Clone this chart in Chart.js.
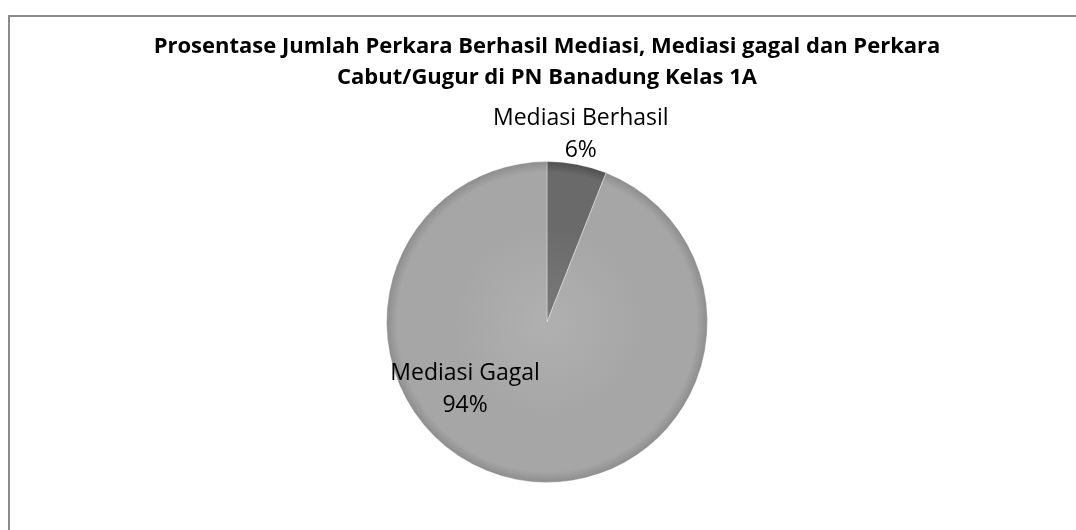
<!DOCTYPE html>
<html>
<head>
<meta charset="utf-8">
<script src="https://cdn.jsdelivr.net/npm/chart.js@4/dist/chart.umd.min.js"></script>
<style>
  html, body { margin: 0; padding: 0; background: #fff; }
  #wrap { position: relative; width: 1076px; height: 530px; overflow: hidden; }
  #frame { position: absolute; left: 8px; top: 15px; width: 1100px; height: 560px;
           border: 2px solid #8a8a8a; box-sizing: border-box; }
  canvas { position: absolute; left: 0; top: 0; }
</style>
</head>
<body>
<div id="wrap">
  <div id="frame"></div>
  <canvas id="pieChart" width="1076" height="530"></canvas>
</div>
<script>
// ---------------- Daten ----------------
const categories = ['Mediasi Berhasil', 'Mediasi Gagal'];
const percentValues = [6, 94];
const titleLines = [
  'Prosentase Jumlah Perkara Berhasil Mediasi, Mediasi gagal dan Perkara',
  'Cabut/Gugur di PN Banadung Kelas 1A'
];

// Farben (Excel-Graustufen mit leichtem Relief)
const sliceColors = [
  ['#7a7a7a', '#6a6a6a', '#4e4e4e'],
  ['#b0b0b0', '#a6a6a6', '#8c8c8c']
];

function sliceFill(ctx) {
  const chart = ctx.chart;
  const area = chart.chartArea;
  if (!area) return sliceColors[ctx.dataIndex][1];
  const cx = (area.left + area.right) / 2;
  const cy = (area.top + area.bottom) / 2;
  const r = Math.min(area.right - area.left, area.bottom - area.top) / 2;
  const c = sliceColors[ctx.dataIndex];
  const g = chart.ctx.createRadialGradient(cx, cy, 0, cx, cy, r);
  g.addColorStop(0, c[0]);
  g.addColorStop(0.6, c[1]);
  g.addColorStop(0.93, c[1]);
  g.addColorStop(1, c[2]);
  return g;
}

// ---------------- Beschriftung der Segmente ----------------
// angle: Grad im Uhrzeigersinn ab oben oder 'mid', dist: Anteil vom Radius
const labelPlacement = [
  { angle: 'mid', dist: 1.19 },
  { angle: 230, dist: 0.65 }
];

const sliceLabels = {
  id: 'sliceLabels',
  afterDatasetsDraw(chart) {
    const ctx = chart.ctx;
    const meta = chart.getDatasetMeta(0);
    ctx.save();
    ctx.font = '23px "Open Sans"';
    ctx.fillStyle = '#000';
    ctx.textAlign = 'center';
    ctx.textBaseline = 'middle';
    meta.data.forEach((arc, i) => {
      const p = labelPlacement[i];
      const a = p.angle === 'mid'
        ? (arc.startAngle + arc.endAngle) / 2
        : (p.angle - 90) * Math.PI / 180;
      const d = arc.outerRadius * p.dist;
      const x = arc.x + Math.cos(a) * d;
      const y = arc.y + Math.sin(a) * d;
      ctx.fillText(categories[i], x - 2, y - 16);
      ctx.fillText(percentValues[i] + '%', x - 2, y + 16);
    });
    ctx.restore();
  }
};

// ---------------- Kreisdiagramm ----------------
new Chart(document.getElementById('pieChart'), {
  type: 'pie',
  data: {
    labels: categories,
    datasets: [{
      data: percentValues,
      backgroundColor: sliceFill,
      borderColor: 'rgba(255,255,255,0.35)',
      borderWidth: 1
    }]
  },
  options: {
    responsive: false,
    animation: false,
    layout: { padding: { left: 18, right: 0, top: 0, bottom: 47 } },
    plugins: {
      legend: { display: false },
      tooltip: { enabled: false },
      title: {
        display: true,
        text: titleLines,
        color: '#000',
        font: { family: '"Open Sans"', size: 22, weight: 'bold', lineHeight: 1.41 },
        padding: { top: 31, bottom: 68 }
      }
    }
  },
  plugins: [sliceLabels]
});
</script>
</body>
</html>
